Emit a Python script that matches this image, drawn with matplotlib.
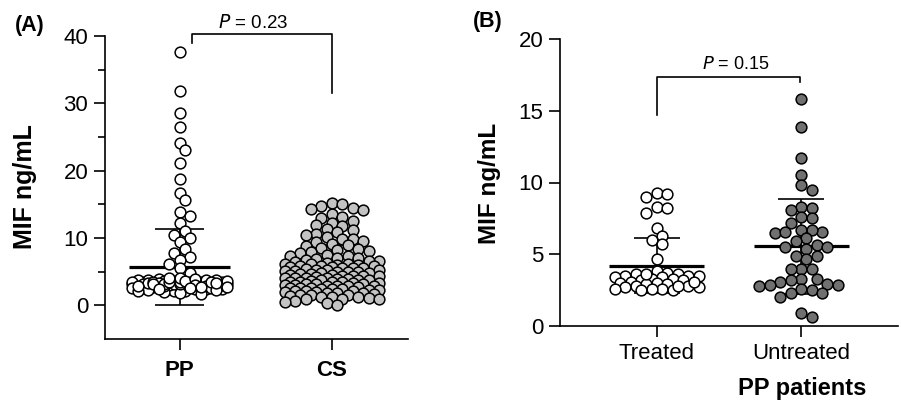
import numpy as np
import matplotlib
matplotlib.use("Agg")
import matplotlib.pyplot as plt

plt.rcParams['font.family'] = ['Liberation Sans', 'DejaVu Sans']

# panel A: MIF in PP patients vs controls (CS)
groups_a = ["PP", "CS"]
pp_vals = [37.6, 31.9, 28.6, 26.5, 24.1, 23.1, 21.1, 18.7, 16.7, 15.7, 13.9, 13.2,
           12.2, 11.1, 10.5, 10.0, 9.4, 8.3, 7.8, 7.2, 6.7, 6.2, 5.5, 4.8,
           3.4, 3.2, 3.6, 2.9, 3.1, 3.5, 2.7, 3.3, 3.0, 2.4, 3.8, 3.1, 2.6, 3.4,
           3.2, 2.2, 3.7, 2.8, 3.5, 3.0, 2.5, 3.3, 3.9, 2.1, 3.6, 2.9, 3.2, 2.7,
           3.4, 3.1, 2.3, 3.5, 2.6, 3.8, 3.0, 2.8, 3.3, 1.9, 3.6, 2.4, 3.2, 3.7,
           2.9, 3.1, 2.5, 3.4, 2.0, 3.5, 2.7, 3.0, 4.1, 2.2, 3.3, 2.6, 3.6, 2.8,
           3.2, 1.7, 3.9, 3.1, 2.4, 3.4, 2.9, 3.5, 2.3, 3.0, 2.7, 3.3, 4.0, 2.6]
cs_vals = [15.2, 15.0, 14.7, 14.5, 14.3, 14.2, 13.6, 13.1, 12.9, 12.5, 12.3, 12.0,
           11.8, 11.4, 11.2, 10.9, 10.6, 10.4, 10.2, 9.9, 9.8, 9.6, 9.4, 9.1,
           8.9, 8.8, 8.5, 8.4, 8.2, 8.1, 7.9, 7.8, 7.5, 7.4, 7.3, 7.1, 7.0, 6.9,
           6.8, 6.6, 6.6, 6.5, 6.3, 6.2, 6.2, 6.1, 6.0, 6.0, 5.9, 5.9, 5.8, 5.7,
           5.7, 5.6, 5.5, 5.5, 5.4, 5.3, 5.2, 5.2, 5.1, 5.1, 5.0, 5.0, 4.9, 4.8,
           4.8, 4.7, 4.6, 4.5, 4.5, 4.4, 4.4, 4.3, 4.3, 4.2, 4.1, 4.1, 4.0, 4.0,
           3.9, 3.9, 3.8, 3.7, 3.7, 3.6, 3.5, 3.5, 3.4, 3.4, 3.3, 3.3, 3.2, 3.1,
           3.1, 3.0, 3.0, 2.9, 2.9, 2.8, 2.8, 2.7, 2.6, 2.6, 2.6, 2.5, 2.5, 2.4,
           2.3, 2.3, 2.2, 2.1, 2.1, 2.0, 2.0, 1.9, 1.9, 1.8, 1.7, 1.6, 1.6, 1.5,
           1.4, 1.3, 1.3, 1.2, 1.1, 1.0, 1.0, 0.9, 0.7, 0.5, 0.3, 0.1]
mean_a = [5.7, 5.3]
sd_a = [5.65, 3.6]
p_a = "0.23"

# panel B: treated vs untreated PP patients
groups_b = ["Treated", "Untreated"]
treated_vals = [9.3, 9.2, 9.0, 8.3, 8.2, 7.9, 6.8, 6.3, 6.0, 5.7, 4.65,
                3.8, 3.7, 3.6, 3.6, 3.5, 3.5, 3.5, 3.4, 3.4, 3.3, 3.3, 3.2,
                3.2, 3.1, 3.0, 3.0, 2.9, 2.9, 2.8, 2.8, 2.7, 2.7, 2.6, 2.6,
                2.6, 2.5, 2.5, 3.6, 3.1, 2.8]
untreated_vals = [15.8, 13.85, 11.7, 10.55, 9.8, 9.5, 8.3, 8.1, 8.25, 7.6, 7.55,
                  7.15, 6.7, 6.55, 6.45, 6.7, 6.55, 6.1, 5.9, 5.65, 5.5, 5.5,
                  5.4, 4.85, 4.7, 4.85, 4.0, 3.95, 3.95, 3.3, 3.3, 3.2, 3.1,
                  2.85, 2.85, 2.8, 2.9, 2.6, 2.5, 2.3, 2.3, 2.05, 0.9, 0.6]
mean_b = [4.2, 5.55]
sd_b = [1.9, 3.3]
p_b = "0.15"


def swarm(ax, vals, maxw, f, d=10.5):
    # simple beeswarm in pixel space, returns x offsets in data units
    vals = np.asarray(vals, dtype=float)
    ypx = ax.transData.transform(np.column_stack([np.zeros(len(vals)), vals]))[:, 1]
    ppu = ax.transData.transform((1, 0))[0] - ax.transData.transform((0, 0))[0]
    step = d / 2
    cands = [0.0]
    k = 1
    while k * step <= maxw:
        cands += [k * step, -k * step]
        k += 1
    cands = np.array(cands)
    px, py = [], []
    offs = np.zeros(len(vals))
    for i in np.argsort(vals)[::-1]:
        if px:
            ax_ = np.array(px)
            ay_ = np.array(py)
            mind = np.array([np.min(np.hypot(ax_ - c, ay_ - ypx[i])) for c in cands])
            ok = np.where(mind >= d * f)[0]
            c = cands[ok[0]] if len(ok) else cands[np.argmax(mind)]
        else:
            c = 0.0
        offs[i] = c
        px.append(c)
        py.append(ypx[i])
    return offs / ppu


def draw_group(ax, x, vals, mean, sd, color, maxw, f):
    ax.hlines(mean, x - 0.33, x + 0.33, color="black", lw=2.3, zorder=2)
    ax.hlines([mean - sd, mean + sd], x - 0.16, x + 0.16, color="black", lw=1.2, zorder=2)
    ax.vlines(x, mean - sd, mean + sd, color="black", lw=1.2, zorder=2)
    offs = swarm(ax, vals, maxw, f)
    ax.scatter(x + offs, vals, s=60, facecolor=color, edgecolor="black", linewidth=1.1,
               zorder=3, clip_on=False)


def style(ax):
    for s in ["top", "right"]:
        ax.spines[s].set_visible(False)
    for s in ["left", "bottom"]:
        ax.spines[s].set_linewidth(1.2)
    ax.tick_params(axis="both", width=1.2, length=8, labelsize=16)


fig = plt.figure(figsize=(9.01, 4.05), dpi=100)

# ---- panel A
axa = fig.add_axes([105 / 901, 1 - 339 / 405, 303 / 901, 303 / 405])
axa.set_xlim(-0.49, 1.5)
axa.set_ylim(-5, 40)
style(axa)
axa.set_yticks([0, 10, 20, 30, 40])
axa.set_yticks([5, 15, 25, 35], minor=True)
axa.tick_params(axis="y", which="minor", width=1.2, length=5)
axa.tick_params(axis="y", pad=4)
axa.tick_params(axis="x", pad=7)
axa.set_xticks([0, 1])
axa.set_xticklabels(groups_a, fontweight="bold")
fig.canvas.draw()
draw_group(axa, 0, pp_vals, mean_a[0], sd_a[0], "white", 50, 0.72)
draw_group(axa, 1, cs_vals, mean_a[1], sd_a[1], "#c3c3c3", 50, 0.72)
axa.plot([0.08, 0.08, 1.0, 1.0], [38.9, 40.3, 40.3, 31.5], color="black", lw=1.2, clip_on=False)
axa.text(0.48, 41.9, "$\\it{P}$ = " + p_a, ha="center", va="center", fontsize=13.5)

# ---- panel B
axb = fig.add_axes([560 / 901, 1 - 326 / 405, 338 / 901, 287 / 405])
axb.set_xlim(-0.67, 1.67)
axb.set_ylim(0, 20)
style(axb)
axb.set_yticks([0, 5, 10, 15, 20])
axb.tick_params(axis="y", pad=4)
axb.tick_params(axis="x", pad=4)
axb.set_xticks([0, 1])
axb.set_xticklabels(groups_b)
fig.canvas.draw()
draw_group(axb, 0, treated_vals, mean_b[0], sd_b[0], "white", 44, 0.8)
draw_group(axb, 1, untreated_vals, mean_b[1], sd_b[1], "#707070", 44, 0.95)
axb.plot([0, 0, 0.99, 0.99], [14.7, 17.37, 17.37, 17.0], color="black", lw=1.2, clip_on=False)
axb.text(0.55, 18.2, "$\\it{P}$ = " + p_b, ha="center", va="center", fontsize=13)

# labels
fig.text(30 / 901, 1 - 25 / 405, "(A)", ha="center", va="center", fontsize=15.5, fontweight="bold")
fig.text(488 / 901, 1 - 22 / 405, "(B)", ha="center", va="center", fontsize=15.5, fontweight="bold")
fig.text(25 / 901, 1 - 187 / 405, "MIF ng/mL", rotation=90, ha="center", va="center",
         fontsize=18, fontweight="bold")
fig.text(490 / 901, 1 - 183 / 405, "MIF ng/mL", rotation=90, ha="center", va="center",
         fontsize=17.5, fontweight="bold")
fig.text(802 / 901, 1 - 388 / 405, "PP patients", ha="center", va="center",
         fontsize=17, fontweight="bold")

fig.savefig("out.png", dpi=100)
